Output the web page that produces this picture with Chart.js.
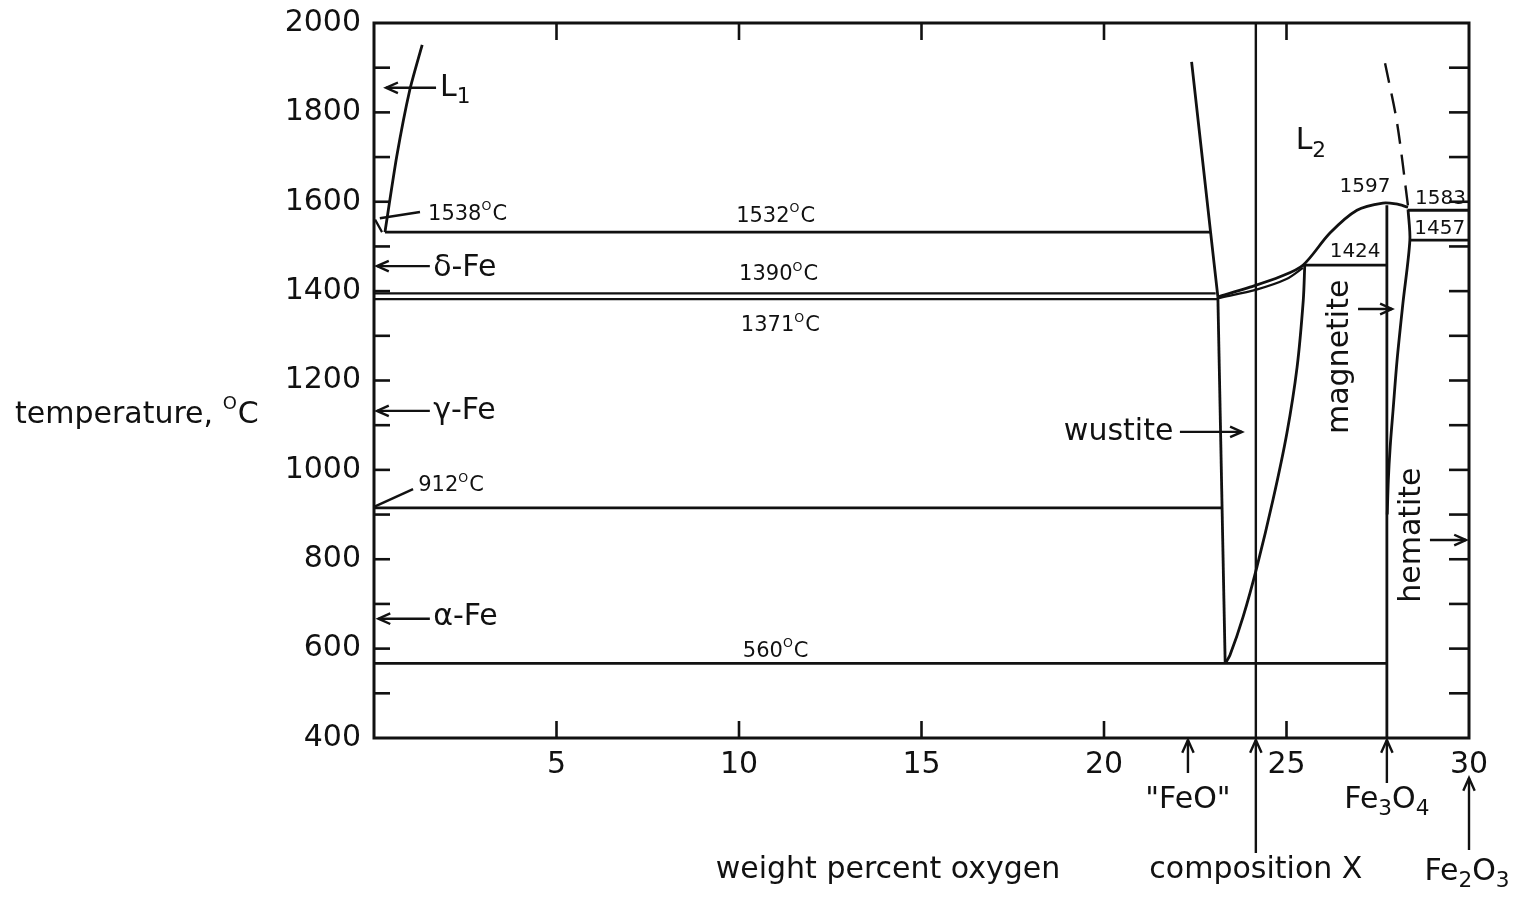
<!DOCTYPE html>
<html><head><meta charset="utf-8">
<script src="https://cdn.jsdelivr.net/npm/chart.js@4.4.1/dist/chart.umd.min.js"></script>
<style>html,body{margin:0;padding:0;background:#fff}canvas{display:block}</style>
</head><body>
<canvas id="c" width="1524" height="898"></canvas>
<script>
// ---- data: phase boundaries as [wt% O, temperature °C] ----
const curveL1        = [[0.30,1532],[0.62,1700],[0.98,1850],[1.32,1951]];
const deltaSolidus   = [[0.03,1560],[0.22,1532]];
const iso1532        = [[0.30,1532],[22.92,1532]];
const iso1390        = [[0,1395],[23.06,1395]];
const iso1371        = [[0,1382],[23.10,1382]];
const iso912         = [[0,915],[23.22,915]];
const iso560         = [[0,567],[27.75,567]];
const liquidusL2     = [[22.40,1913],[22.92,1532],[23.12,1387]];
const wustiteLeft    = [[23.12,1387],[23.32,567]];
const wustiteRight   = [[25.50,1458],[25.46,1380],[25.29,1230],[25.01,1082],[24.63,933],[24.19,783],[23.81,671],[23.45,585],[23.32,567]];
const liquidusUpper  = [[23.12,1387],[24.0,1409],[24.82,1432],[25.45,1458],[26.19,1530],[26.93,1581],[27.64,1597],[28.0,1595],[28.33,1588]];
const solidusLower   = [[23.12,1384],[24.2,1404],[25.0,1427],[25.45,1452]];
const iso1424        = [[25.45,1458],[27.75,1458]];
const magnetiteLine  = [[27.75,1592],[27.75,400]];
const magnetiteRight = [[28.33,1583],[28.38,1514],[28.19,1373],[28.03,1246],[27.92,1134],[27.84,1051],[27.79,977],[27.76,900]];
const iso1583        = [[28.33,1581],[30,1581]];
const iso1457        = [[28.38,1514],[30,1514]];
const dashedLiquidus = [[27.70,1910],[28.03,1776],[28.33,1590]];
const compositionX   = [[24.16,2000],[24.16,400]];

// ---- axis ----
const xTickValues = [5,10,15,20,25,30];
const yTickLabels = [400,600,800,1000,1200,1400,1600,1800,2000];

// ---- text labels inside the plot: [parts, x, T, size, align] ----
const plotLabels = [
  [[['L','n'],['1','sub']], 1.81, 1855, 30, 'left'],
  [[['1538','n'],['O','sup'],['C','n']], 1.48, 1572, 21, 'left'],
  [[['δ-Fe','n']], 1.62, 1452, 30, 'left'],
  [[['1532','n'],['O','sup'],['C','n']], 10.99, 1568, 21, 'center'],
  [[['1390','n'],['O','sup'],['C','n']], 11.07, 1436, 21, 'center'],
  [[['1371','n'],['O','sup'],['C','n']], 11.12, 1322, 21, 'center'],
  [[['γ-Fe','n']], 1.62, 1132, 30, 'left'],
  [[['912','n'],['O','sup'],['C','n']], 1.21, 964, 21, 'left'],
  [[['α-Fe','n']], 1.62, 671, 30, 'left'],
  [[['560','n'],['O','sup'],['C','n']], 10.99, 594, 21, 'center'],
  [[['wustite','n']], 21.9, 1085, 30, 'right'],
  [[['L','n'],['2','sub']], 25.25, 1735, 30, 'left'],
  [[['1597','n']], 27.15, 1633, 20, 'center'],
  [[['1583','n']], 29.22, 1606, 20, 'center'],
  [[['1457','n']], 29.2, 1539, 20, 'center'],
  [[['1424','n']], 26.88, 1487, 20, 'center']
];
const rotatedLabels = [ ['magnetite', 26.47, 1253], ['hematite', 28.44, 854] ];
// arrows in data coords: [x1,T1,x2,T2] head at second point
const plotArrows = [
  [1.70,1855,0.33,1855], [1.53,1456,0.08,1456], [1.53,1132,0.08,1132], [1.53,667,0.12,667],
  [22.08,1085,23.78,1085], [26.96,1360,27.89,1360], [28.93,843,29.92,843]
];
const leaders = [ [1.26,1577,0.16,1563], [1.07,957,0.0,917] ];
// markers below the x axis: [parts, x value, arrow tail y(px), label y(px)]
const axisMarkers = [
  [[['"FeO"','n']], 22.30, 773, 800],
  [[['composition X','n']], 24.16, 853, 870],
  [[['Fe','n'],['3','sub'],['O','n'],['4','sub']], 27.75, 783, 800]
];

const FONT = '"DejaVu Sans", sans-serif';
const pts = a => a.map(p => ({x:p[0], y:p[1]}));
const line = (d, extra) => Object.assign({data: pts(d), showLine:true, borderColor:'#111', borderWidth:2.8, pointRadius:0, tension:0.3, fill:false}, extra||{});

function drawRich(ctx, parts, x, y, size, align){
  const segs = parts.map(([t,m]) => {
    const s = m==='n' ? size : (m==='sub' ? size*0.72 : size*0.6);
    ctx.font = s+'px '+FONT;
    return {t, m, s, w: ctx.measureText(t).width};
  });
  const total = segs.reduce((a,b)=>a+b.w,0);
  let cx = align==='center' ? x-total/2 : align==='right' ? x-total : x;
  ctx.textAlign='left'; ctx.textBaseline='middle';
  for (const g of segs){
    ctx.font = g.s+'px '+FONT;
    const dy = g.m==='sub' ? size*0.32 : g.m==='sup' ? -size*0.36 : 0;
    ctx.fillText(g.t, cx, y+dy);
    cx += g.w + (g.m==='sup'?1:0);
  }
}
function arrow(ctx,x1,y1,x2,y2,head){
  head = head||13;
  ctx.beginPath(); ctx.moveTo(x1,y1); ctx.lineTo(x2,y2); ctx.stroke();
  const a = Math.atan2(y2-y1,x2-x1);
  ctx.beginPath();
  ctx.moveTo(x2-head*Math.cos(a-0.42), y2-head*Math.sin(a-0.42));
  ctx.lineTo(x2,y2);
  ctx.lineTo(x2-head*Math.cos(a+0.42), y2-head*Math.sin(a+0.42));
  ctx.stroke();
}

const decor = {
  id:'decor',
  afterDraw(chart){
    const ctx = chart.ctx, xs = chart.scales.x, ys = chart.scales.y, ca = chart.chartArea;
    const X = v => xs.getPixelForValue(v), Y = v => ys.getPixelForValue(v);
    ctx.save();
    ctx.strokeStyle='#111'; ctx.fillStyle='#111'; ctx.lineCap='butt';
    // frame
    ctx.lineWidth = 3;
    ctx.strokeRect(ca.left, ca.top, ca.right-ca.left, ca.bottom-ca.top);
    // inward ticks
    ctx.lineWidth = 2.6;
    ys.ticks.forEach(t => {
      if (t.value<=400 || t.value>=2000) return;
      const y = Y(t.value);
      ctx.beginPath(); ctx.moveTo(ca.left,y); ctx.lineTo(ca.left+16,y); ctx.stroke();
      ctx.beginPath(); ctx.moveTo(ca.right,y); ctx.lineTo(ca.right-20,y); ctx.stroke();
    });
    xs.ticks.forEach(t => {
      if (t.value<=0 || t.value>=30) return;
      const x = X(t.value);
      ctx.beginPath(); ctx.moveTo(x,ca.bottom); ctx.lineTo(x,ca.bottom-17); ctx.stroke();
      ctx.beginPath(); ctx.moveTo(x,ca.top); ctx.lineTo(x,ca.top+17); ctx.stroke();
    });
    // arrows inside
    ctx.lineWidth = 2.4;
    plotArrows.forEach(a => arrow(ctx, X(a[0]),Y(a[1]),X(a[2]),Y(a[3])));
    leaders.forEach(a => { ctx.beginPath(); ctx.moveTo(X(a[0]),Y(a[1])); ctx.lineTo(X(a[2]),Y(a[3])); ctx.stroke(); });
    // labels
    plotLabels.forEach(l => drawRich(ctx, l[0], X(l[1]), Y(l[2]), l[3], l[4]));
    rotatedLabels.forEach(l => {
      ctx.save(); ctx.translate(X(l[1]), Y(l[2])); ctx.rotate(-Math.PI/2);
      ctx.font = '30px '+FONT; ctx.textAlign='center'; ctx.textBaseline='middle';
      ctx.fillText(l[0],0,0); ctx.restore();
    });
    // markers below axis
    ctx.lineWidth = 2.4;
    axisMarkers.forEach(m => {
      const x = X(m[1]);
      arrow(ctx, x, m[2], x, ca.bottom+2, 14);
      drawRich(ctx, m[0], x, m[3], 30, 'center');
    });
    // Fe2O3 marker under the 30 label
    arrow(ctx, X(30), 850, X(30), 778, 14);
    drawRich(ctx, [['Fe','n'],['2','sub'],['O','n'],['3','sub']], X(30)-2, 872, 30, 'center');
    // axis titles
    drawRich(ctx, [['weight percent oxygen','n']], 888, 870, 30, 'center');
    drawRich(ctx, [['temperature, ','n'],['O','sup'],['C','n']], 15, 415, 30, 'left');
    ctx.restore();
  }
};

new Chart(document.getElementById('c'), {
  type:'scatter',
  data:{ datasets:[
    line(curveL1,{tension:0.2}), line(deltaSolidus,{borderWidth:2.2}), line(iso1532,{tension:0}),
    line(iso1390,{borderWidth:2.2,tension:0}), line(iso1371,{borderWidth:2.2,tension:0}),
    line(iso912,{tension:0}), line(iso560,{tension:0}),
    line(liquidusL2,{tension:0.1}), line(wustiteLeft,{tension:0}), line(wustiteRight),
    line(liquidusUpper), line(solidusLower,{borderWidth:2.2}), line(iso1424,{tension:0}),
    line(magnetiteLine,{tension:0}), line(magnetiteRight), line(iso1583,{tension:0}),
    line(iso1457,{tension:0}), line(dashedLiquidus,{borderDash:[20,11],borderWidth:2.4}),
    line(compositionX,{tension:0,borderWidth:2.4})
  ]},
  options:{
    responsive:false, animation:false, devicePixelRatio:1,
    layout:{padding:{top:23,right:55,left:0,bottom:0}},
    plugins:{legend:{display:false}, tooltip:{enabled:false}},
    scales:{
      x:{ type:'linear', min:0, max:30, grid:{display:false}, border:{display:false},
          afterFit(s){ s.height = 160; },
          ticks:{ stepSize:5, autoSkip:false, maxRotation:0, padding:1, color:'#111',
                  font:{family:FONT, size:30},
                  callback:v => xTickValues.includes(v) ? String(v) : '' } },
      y:{ type:'linear', min:400, max:2000, grid:{display:false}, border:{display:false},
          afterFit(s){ s.width = 374; },
          ticks:{ stepSize:100, autoSkip:false, padding:5, color:'#111',
                  font:{family:FONT, size:30},
                  callback:v => yTickLabels.includes(v) ? String(v) : '' } }
    }
  },
  plugins:[decor]
});
</script></body></html>
